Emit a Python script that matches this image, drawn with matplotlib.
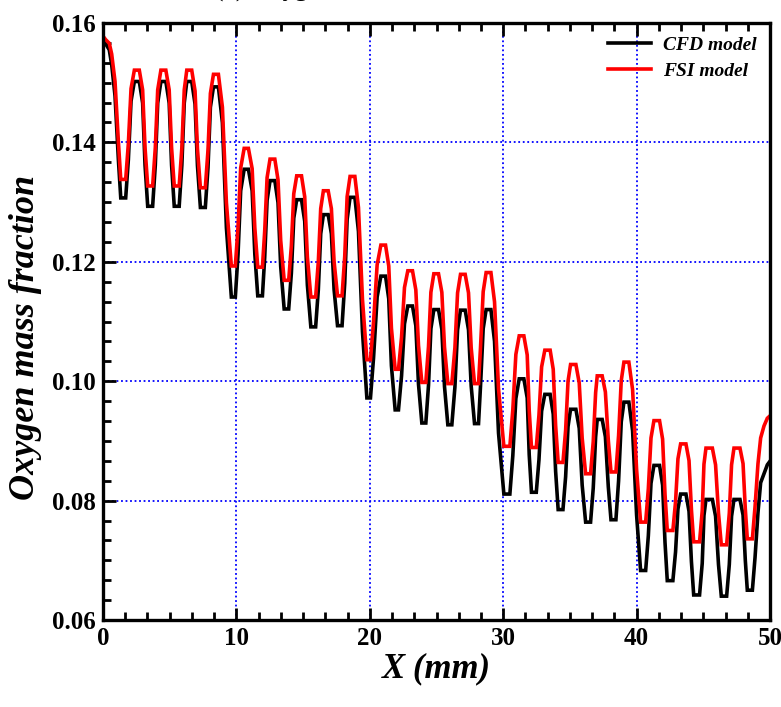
import numpy as np
import matplotlib.pyplot as plt
from matplotlib.ticker import MultipleLocator

# x positions (mm), shared by both curves; one row per wall period
x_mm = [
    0.00, 0.20, 0.47, 0.65, 0.90, 1.15, 1.33, 1.70, 1.90, 2.10,
    2.35, 2.72, 2.97, 3.15, 3.35, 3.72, 3.92, 4.10,
    4.34, 4.71, 4.96, 5.14, 5.34, 5.71, 5.91, 6.09,
    6.28, 6.65, 6.90, 7.08, 7.30, 7.67, 7.87, 8.05,
    8.28, 8.65, 8.95, 9.25, 9.62, 9.92, 10.12, 10.32,
    10.58, 10.90, 11.18, 11.38, 11.60, 11.95, 12.12, 12.30,
    12.52, 12.88, 13.12, 13.32, 13.58, 13.92, 14.12, 14.30,
    14.52, 14.88, 15.12, 15.32, 15.58, 15.94, 16.14, 16.32,
    16.52, 16.88, 17.12, 17.32, 17.58, 17.92, 18.12, 18.30,
    18.52, 18.88, 19.15, 19.45, 19.78, 20.05, 20.28, 20.55,
    20.83, 21.18, 21.42, 21.62, 21.90, 22.15, 22.38, 22.60,
    22.85, 23.20, 23.45, 23.65, 23.90, 24.20, 24.40, 24.58,
    24.80, 25.15, 25.40, 25.60, 25.85, 26.15, 26.38, 26.58,
    26.80, 27.15, 27.40, 27.60, 27.85, 28.15, 28.30, 28.50,
    28.72, 29.08, 29.35, 29.65, 30.05, 30.50, 30.72, 30.95,
    31.20, 31.55, 31.80, 31.95, 32.12, 32.48, 32.68, 32.88,
    33.12, 33.52, 33.75, 33.93, 34.12, 34.48, 34.68, 34.86,
    35.05, 35.45, 35.70, 35.92, 36.18, 36.55, 36.75, 36.93,
    37.05, 37.42, 37.66, 37.88, 38.08, 38.45, 38.65, 38.85,
    39.05, 39.42, 39.70, 40.00, 40.30, 40.68, 40.88, 41.08,
    41.30, 41.72, 41.95, 42.13, 42.30, 42.72, 42.92, 43.10,
    43.30, 43.70, 43.93, 44.11, 44.28, 44.72, 44.92, 45.05,
    45.20, 45.68, 45.92, 46.14, 46.35, 46.75, 46.95, 47.12,
    47.30, 47.75, 47.98, 48.15, 48.30, 48.68,
    48.88, 49.10, 49.30, 49.55, 49.80, 50.00,
]

cfd = [
    .1572, .1565, .1555, .1530, .1478, .1372, .1307, .1307, .1371, .1469,
    .1502, .1502, .1466, .1362, .1293, .1293, .1362, .1466,
    .1502, .1502, .1466, .1362, .1293, .1293, .1362, .1466,
    .1502, .1502, .1464, .1361, .1291, .1291, .1358, .1459,
    .1493, .1493, .1433, .1257, .1141, .1141, .1212, .1319,
    .1355, .1355, .1319, .1213, .1143, .1143, .1207, .1303,
    .1336, .1336, .1299, .1192, .1121, .1121, .1181, .1273,
    .1304, .1304, .1268, .1161, .1091, .1091, .1153, .1247,
    .1279, .1279, .1247, .1154, .1093, .1093, .1164, .1271,
    .1308, .1308, .1251, .1083, .0972, .0972, .1039, .1141,
    .1176, .1176, .1138, .1026, .0952, .0952, .1009, .1096,
    .1126, .1126, .1093, .0995, .0930, .0930, .0993, .1088,
    .1120, .1120, .1087, .0991, .0927, .0927, .0990, .1086,
    .1119, .1119, .1086, .0992, .0929, .0929, .0992, .1088,
    .1120, .1120, .1067, .0913, .0811, .0811, .0875, .0971,
    .1004, .1004, .0972, .0877, .0814, .0814, .0868, .0950,
    .0978, .0978, .0945, .0849, .0785, .0785, .0840, .0924,
    .0953, .0953, .0921, .0826, .0764, .0764, .0821, .0907,
    .0936, .0936, .0907, .0823, .0768, .0768, .0833, .0932,
    .0965, .0965, .0917, .0776, .0683, .0683, .0741, .0829,
    .0859, .0859, .0826, .0730, .0666, .0666, .0714, .0786,
    .0811, .0811, .0782, .0698, .0642, .0642, .0695, .0775,
    .0802, .0802, .0774, .0693, .0640, .0640, .0693, .0774,
    .0802, .0802, .0776, .0700, .0650, .0650,
    .0705, .0780, .0830, .0845, .0860, .0866,
]

fsi = [
    .1578, .1572, .1566, .1548, .1502, .1402, .1338, .1338, .1398, .1490,
    .1521, .1521, .1488, .1391, .1327, .1327, .1391, .1488,
    .1521, .1521, .1488, .1391, .1327, .1327, .1391, .1488,
    .1521, .1521, .1486, .1389, .1324, .1324, .1387, .1482,
    .1514, .1514, .1459, .1299, .1193, .1193, .1258, .1357,
    .1390, .1390, .1356, .1257, .1191, .1191, .1251, .1341,
    .1372, .1372, .1337, .1236, .1169, .1169, .1227, .1314,
    .1344, .1344, .1309, .1208, .1141, .1141, .1200, .1289,
    .1319, .1319, .1289, .1201, .1143, .1143, .1209, .1309,
    .1343, .1343, .1291, .1137, .1036, .1036, .1099, .1195,
    .1228, .1228, .1193, .1089, .1020, .1020, .1074, .1157,
    .1185, .1185, .1153, .1060, .0998, .0998, .1058, .1149,
    .1180, .1180, .1149, .1057, .0996, .0996, .1056, .1148,
    .1179, .1179, .1148, .1056, .0996, .0996, .1057, .1150,
    .1182, .1182, .1133, .0987, .0891, .0891, .0952, .1045,
    .1076, .1076, .1044, .0951, .0889, .0889, .0943, .1024,
    .1052, .1052, .1020, .0926, .0864, .0864, .0918, .1000,
    .1028, .1028, .0997, .0905, .0845, .0845, .0899, .0981,
    .1009, .1009, .0982, .0901, .0848, .0848, .0909, .1001,
    .1032, .1032, .0986, .0852, .0764, .0764, .0820, .0905,
    .0934, .0934, .0903, .0811, .0750, .0750, .0798, .0870,
    .0895, .0895, .0867, .0785, .0731, .0731, .0783, .0861,
    .0888, .0888, .0860, .0779, .0726, .0726, .0779, .0860,
    .0888, .0888, .0862, .0786, .0736, .0736,
    .0790, .0862, .0905, .0925, .0938, .0942,
]

series_names = ['CFD model', 'FSI model']
series_colors = ['black', 'red']

plt.rcParams['font.family'] = ['Liberation Serif', 'DejaVu Serif']
plt.rcParams['font.weight'] = 'bold'

fig = plt.figure(figsize=(7.81, 7.07), dpi=100)
ax = fig.add_axes([0.1319, 0.1230, 0.8540, 0.8445])

for ys, name, col in zip([cfd, fsi], series_names, series_colors):
    ax.plot(x_mm, ys, color=col, lw=2.6, label=name, solid_joinstyle='miter')

ax.set_xlim(0, 50)
ax.set_ylim(0.06, 0.16)
ax.xaxis.set_major_locator(MultipleLocator(10))
ax.xaxis.set_minor_locator(MultipleLocator(10 / 6))
ax.yaxis.set_major_locator(MultipleLocator(0.02))
ax.yaxis.set_minor_locator(MultipleLocator(0.02 / 6))
ax.yaxis.set_major_formatter(plt.FormatStrFormatter('%.2f'))

ax.grid(True, which='major', color='blue', ls=(0, (1, 1.5)), lw=1.3)
ax.tick_params(which='both', direction='in', top=True, right=False, width=2)
ax.tick_params(which='major', length=9, labelsize=18, pad=5)
ax.tick_params(which='minor', length=6)
for s in ax.spines.values():
    s.set_linewidth(2.4)
for lab in ax.get_xticklabels() + ax.get_yticklabels():
    lab.set_fontweight('bold')

ax.set_xlabel('X (mm)', fontsize=25, fontweight='bold', style='italic', labelpad=2)
ax.set_ylabel('Oxygen mass fraction', fontsize=26, fontweight='bold', style='italic')
ax.yaxis.set_label_coords(-0.092, 0.474)

leg = ax.legend(loc='upper right', frameon=False, handlelength=2.2,
                prop={'size': 14, 'weight': 'bold', 'style': 'italic'},
                borderaxespad=0.3, labelspacing=0.4, handletextpad=0.6)

# title of the panel, mostly cut off by the top edge in the original
fig.text(0.275, 1.0 + 4 / 707, '(a) Oxygen mass fraction', fontsize=18,
         va='baseline', ha='left')

fig.savefig('out.png', dpi=100)
